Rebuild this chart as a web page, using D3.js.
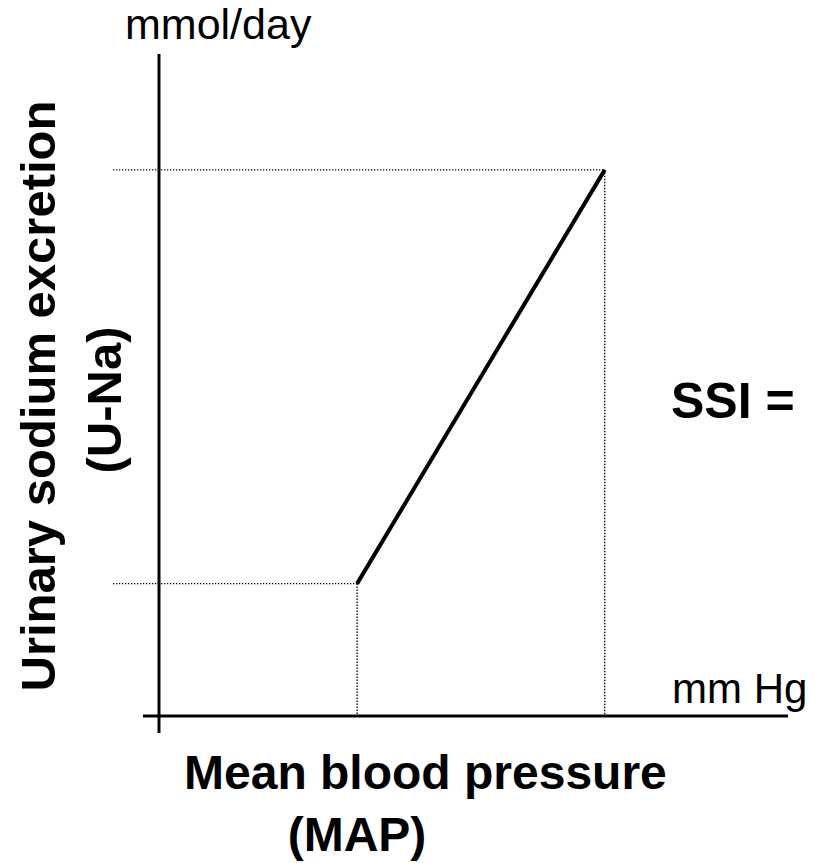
<!DOCTYPE html>
<html>
<head>
<meta charset="utf-8">
<script src="https://cdn.jsdelivr.net/npm/d3@7"></script>
<style>
  html, body { margin: 0; padding: 0; background: #fff; }
  svg { display: block; }
  text { font-family: "Liberation Sans", Arial, Helvetica, sans-serif; fill: #000; }
</style>
</head>
<body>
<svg id="chart" width="814" height="863"></svg>
<script>
// Data (arbitrary units read from the schematic)
const mapValues = [100, 150];      // mean blood pressure (mm Hg)
const uNaValues = [48, 198];       // urinary sodium excretion (mmol/day)
const xDomain = [60, 187];
const yDomain = [0, 240];
const xUnit = "mm Hg";
const yUnit = "mmol/day";
const xTitle = ["Mean blood pressure", "(MAP)"];
const yTitle = ["Urinary sodium excretion", "(U-Na)"];
const sideLabel = "SSI =";

const svg = d3.select("#chart");
const x = d3.scaleLinear().domain(xDomain).range([159, 788]);
const y = d3.scaleLinear().domain(yDomain).range([716, 54]);

const pts = mapValues.map((m, i) => ({ m, u: uNaValues[i] }));

// dotted guide lines
const g = svg.append("g").attr("stroke", "#000").attr("stroke-width", 1.3)
  .attr("stroke-dasharray", "1.3,1.7").attr("fill", "none");
pts.forEach(p => {
  g.append("line").attr("x1", x(xDomain[0]) - 46).attr("x2", x(p.m))
    .attr("y1", y(p.u)).attr("y2", y(p.u));
  g.append("line").attr("x1", x(p.m)).attr("x2", x(p.m))
    .attr("y1", y(p.u)).attr("y2", y(yDomain[0]));
});

// axes
svg.append("line").attr("x1", x(xDomain[0])).attr("x2", x(xDomain[0]))
  .attr("y1", y(yDomain[1])).attr("y2", y(yDomain[0]) + 17)
  .attr("stroke", "#000").attr("stroke-width", 3);
svg.append("line").attr("x1", x(xDomain[0]) - 16).attr("x2", x(xDomain[1]))
  .attr("y1", y(yDomain[0])).attr("y2", y(yDomain[0]))
  .attr("stroke", "#000").attr("stroke-width", 3);

// response line
svg.append("path").datum(pts)
  .attr("d", d3.line().x(d => x(d.m)).y(d => y(d.u)))
  .attr("stroke", "#000").attr("stroke-width", 4).attr("fill", "none");

// unit labels
svg.append("text").attr("x", 125).attr("y", 39).attr("font-size", 43).text(yUnit);
svg.append("text").attr("x", 672).attr("y", 703).attr("font-size", 42).text(xUnit);

// x title
svg.append("text").attr("x", 184).attr("y", 789)
  .attr("font-size", 48).attr("font-weight", "bold").text(xTitle[0]);
svg.append("text").attr("x", 357).attr("y", 851).attr("text-anchor", "middle")
  .attr("font-size", 48).attr("font-weight", "bold").text(xTitle[1]);

// y title
svg.append("text").attr("transform", "translate(55,396) rotate(-90)")
  .attr("text-anchor", "middle").attr("font-size", 49).attr("font-weight", "bold").text(yTitle[0]);
svg.append("text").attr("transform", "translate(121,400) rotate(-90)")
  .attr("text-anchor", "middle").attr("font-size", 49).attr("font-weight", "bold").text(yTitle[1]);

// side label
svg.append("text").attr("x", 671).attr("y", 418).attr("font-size", 50)
  .attr("font-weight", "bold").text(sideLabel);
</script>
</body>
</html>
